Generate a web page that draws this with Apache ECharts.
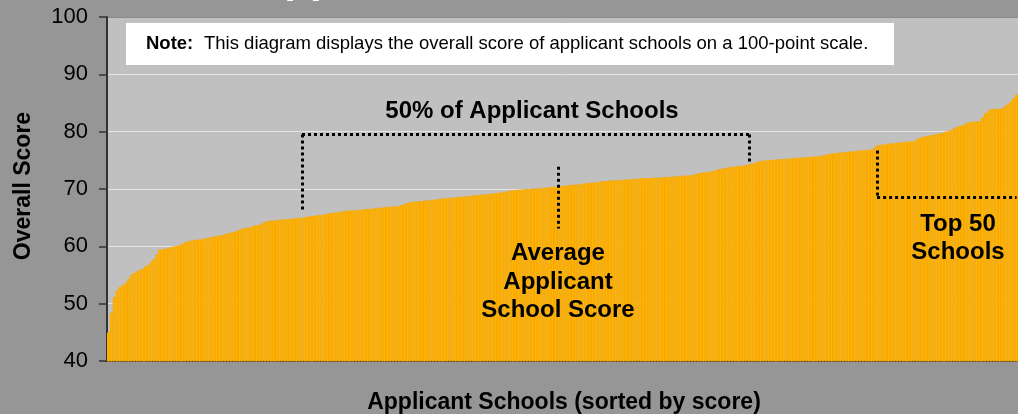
<!DOCTYPE html>
<html>
<head>
<meta charset="utf-8">
<script src="https://cdn.jsdelivr.net/npm/echarts@6/dist/echarts.min.js"></script>
<style>
  html, body { margin: 0; padding: 0; background: #969696; }
  #chart { width: 1018px; height: 414px; }
</style>
</head>
<body>
<div id="chart"></div>
<script>
  // overall score of each applicant school, sorted low to high
  const scores = [
    45.0, 48.4, 51.2, 52.3, 52.9, 53.2, 53.6, 54.3, 55.0, 55.4, 55.6, 55.9, 56.1, 56.5, 56.8, 57.3, 57.8, 58.6, 59.4, 59.5,
    59.6, 59.7, 59.9, 60.0, 60.1, 60.2, 60.5, 60.7, 60.9, 61.0, 61.1, 61.2, 61.2, 61.3, 61.4, 61.5, 61.6, 61.7, 61.8, 61.9,
    62.0, 62.1, 62.3, 62.4, 62.5, 62.7, 62.9, 63.1, 63.2, 63.3, 63.4, 63.6, 63.7, 63.8, 64.0, 64.3, 64.4, 64.5, 64.5, 64.6,
    64.6, 64.7, 64.7, 64.8, 64.8, 64.9, 64.9, 65.0, 65.0, 65.1, 65.2, 65.3, 65.3, 65.4, 65.5, 65.5, 65.6, 65.7, 65.8, 65.9,
    65.9, 66.0, 66.1, 66.2, 66.2, 66.3, 66.3, 66.3, 66.4, 66.4, 66.5, 66.5, 66.6, 66.6, 66.7, 66.7, 66.8, 66.8, 66.9, 66.9,
    67.0, 67.0, 67.0, 67.2, 67.4, 67.6, 67.7, 67.8, 67.8, 67.9, 67.9, 68.0, 68.0, 68.1, 68.1, 68.2, 68.3, 68.3, 68.4, 68.4,
    68.5, 68.5, 68.6, 68.6, 68.7, 68.7, 68.8, 68.8, 68.9, 68.9, 69.0, 69.0, 69.1, 69.1, 69.2, 69.2, 69.3, 69.4, 69.4, 69.5,
    69.6, 69.7, 69.8, 69.8, 69.9, 69.9, 70.0, 70.0, 70.0, 70.1, 70.1, 70.1, 70.2, 70.2, 70.3, 70.3, 70.4, 70.4, 70.5, 70.5,
    70.6, 70.6, 70.7, 70.7, 70.8, 70.8, 70.9, 71.0, 71.0, 71.1, 71.1, 71.2, 71.2, 71.3, 71.4, 71.4, 71.5, 71.5, 71.5, 71.6,
    71.6, 71.6, 71.7, 71.7, 71.7, 71.8, 71.8, 71.9, 71.9, 71.9, 71.9, 72.0, 72.0, 72.0, 72.0, 72.1, 72.1, 72.1, 72.2, 72.2,
    72.2, 72.3, 72.3, 72.4, 72.4, 72.4, 72.6, 72.7, 72.8, 72.9, 73.0, 73.0, 73.1, 73.2, 73.4, 73.5, 73.6, 73.7, 73.8, 73.9,
    73.9, 74.0, 74.0, 74.1, 74.2, 74.3, 74.4, 74.6, 74.7, 74.9, 75.0, 75.0, 75.1, 75.1, 75.1, 75.2, 75.2, 75.2, 75.3, 75.3,
    75.4, 75.4, 75.5, 75.5, 75.5, 75.6, 75.6, 75.6, 75.7, 75.7, 75.8, 75.9, 76.0, 76.1, 76.2, 76.3, 76.3, 76.4, 76.4, 76.5,
    76.5, 76.6, 76.6, 76.7, 76.7, 76.8, 76.8, 76.9, 76.9, 77.2, 77.6, 77.7, 77.8, 77.8, 77.9, 78.0, 78.0, 78.1, 78.1, 78.2,
    78.2, 78.3, 78.3, 78.4, 78.7, 78.9, 79.1, 79.2, 79.3, 79.4, 79.5, 79.6, 79.7, 79.8, 80.0, 80.1, 80.3, 80.6, 80.8, 81.0,
    81.1, 81.4, 81.6, 81.7, 81.8, 81.8, 81.8, 82.5, 83.2, 83.6, 83.9, 84.0, 84.0, 84.0, 84.1, 84.5, 84.9, 85.3, 85.9, 86.5
  ]
  const categories = scores.map((v, i) => 'School ' + (i + 1))

  // y axis range
  const yMin = 40
  const yMax = 100
  const yStep = 10

  // annotation brackets: school index + score level
  const halfFrom = 68, halfTo = 225, halfTop = 79.5
  const avgIndex = 158
  const topFrom = 270, topTo = scores.length - 1, topLevel = 68.5

  const font = '"Liberation Sans", Arial, sans-serif'

  const chart = echarts.init(document.getElementById('chart'))
  chart.setOption({
    backgroundColor: '#969696',
    animation: false,
    grid: {
      left: 107,
      right: 0,
      top: 17,
      bottom: 53,
      show: true,
      backgroundColor: '#C0C0C0',
      borderWidth: 0
    },
    xAxis: {
      type: 'category',
      data: categories,
      axisTick: {show: false},
      axisLabel: {show: false},
      axisLine: {lineStyle: {color: '#444', width: 2}},
      splitLine: {show: false}
    },
    yAxis: {
      type: 'value',
      min: yMin,
      max: yMax,
      interval: yStep,
      axisLine: {show: true, lineStyle: {color: '#333', width: 2}},
      axisTick: {show: true, length: 8, lineStyle: {color: '#333', width: 1.5}},
      axisLabel: {
        margin: 19,
        color: '#000',
        fontSize: 22,
        fontFamily: font
      },
      splitLine: {
        lineStyle: {
          color: ['#E4E4E4', '#E4E4E4', '#E4E4E4', '#E4E4E4', '#E4E4E4', '#E4E4E4', '#8A8A8A'],
          width: 1
        }
      }
    },
    series: [{
      type: 'bar',
      data: scores,
      barCategoryGap: 0,
      silent: true,
      itemStyle: {
        color: '#FFB800',
        borderColor: '#FAA900',
        borderWidth: 1
      },
      markLine: {
        silent: true,
        symbol: ['none', 'none'],
        label: {show: false},
        lineStyle: {color: '#000', width: 3, type: [3, 3], cap: 'butt'},
        data: [
          [{coord: [halfFrom, halfTop]}, {coord: [halfTo, halfTop]}],
          [{coord: [halfFrom, halfTop]}, {coord: [halfFrom, 66.3]}],
          [{coord: [halfTo, halfTop]}, {coord: [halfTo, 74.6]}],
          [{coord: [avgIndex, 73.9]}, {coord: [avgIndex, 63.1]}],
          [{coord: [topFrom, 76.7]}, {coord: [topFrom, topLevel]}],
          [{coord: [topFrom, topLevel]}, {coord: [topTo, topLevel]}]
        ]
      }
    }],
    graphic: [
      {
        type: 'text', x: 254, y: 1, z: 100,
        style: {text: 'Applicant Schools', fill: '#fff', font: 'bold 42px ' + font, textVerticalAlign: 'bottom'}
      },
      {
        type: 'rect', shape: {x: 126, y: 23, width: 768, height: 42}, z: 100,
        style: {fill: '#fff'}
      },
      {
        type: 'text', x: 146, y: 44, z: 101,
        style: {text: 'Note:', fill: '#000', font: 'bold 18.5px ' + font, textVerticalAlign: 'middle'}
      },
      {
        type: 'text', x: 204, y: 44, z: 101,
        style: {
          text: 'This diagram displays the overall score of applicant schools on a 100-point scale.',
          fill: '#000', font: '18.5px ' + font, textVerticalAlign: 'middle'
        }
      },
      {
        type: 'text', x: 532, y: 111, z: 100,
        style: {text: '50% of Applicant Schools', fill: '#000', font: 'bold 24px ' + font, textAlign: 'center', textVerticalAlign: 'middle'}
      },
      {
        type: 'text', x: 558, y: 282, z: 100,
        style: {
          text: 'Average\nApplicant\nSchool Score', fill: '#000', font: 'bold 24px ' + font,
          lineHeight: 28.5, textAlign: 'center', textVerticalAlign: 'middle'
        }
      },
      {
        type: 'text', x: 958, y: 238, z: 100,
        style: {
          text: 'Top 50\nSchools', fill: '#000', font: 'bold 24px ' + font,
          lineHeight: 28, textAlign: 'center', textVerticalAlign: 'middle'
        }
      },
      {
        type: 'text', x: 24, y: 186, rotation: Math.PI / 2, z: 100,
        style: {text: 'Overall Score', fill: '#000', font: 'bold 23px ' + font, textAlign: 'center', textVerticalAlign: 'middle'}
      },
      {
        type: 'text', x: 564, y: 403, z: 100,
        style: {text: 'Applicant Schools (sorted by score)', fill: '#000', font: 'bold 23px ' + font, textAlign: 'center', textVerticalAlign: 'middle'}
      }
    ]
  })
</script>
</body>
</html>
